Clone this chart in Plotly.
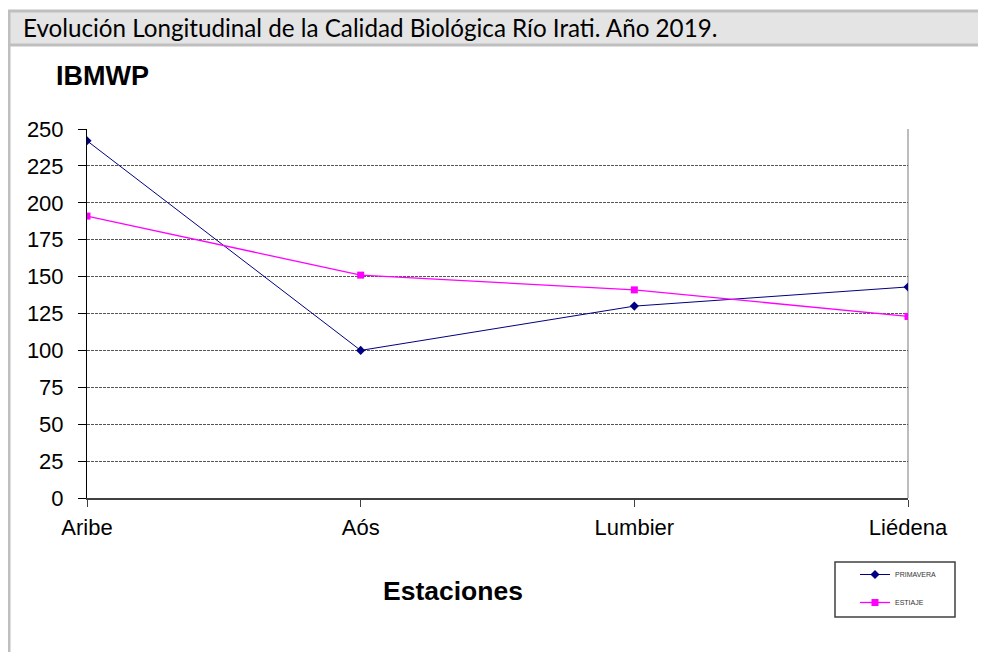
import plotly.graph_objects as go

estaciones = ["Aribe", "Aós", "Lumbier", "Liédena"]
primavera = [242, 100, 130, 143]
estiaje = [191, 151, 141, 123]
y_ticks = [0, 25, 50, 75, 100, 125, 150, 175, 200, 225, 250]

OFF = 8  # default page body margin
W, H = 986 - OFF, 652 - OFF
L, R, T, B = 87, 908, 129, 498  # plot area in screen pixels

def px(x):
    return (x - L) / (R - L)

def py(y):
    return (B - y) / (B - T)

fig = go.Figure()
fig.add_trace(go.Scatter(
    x=estaciones, y=primavera, name="PRIMAVERA", mode="lines+markers",
    legendgroup="p",
    line=dict(color="#000080", width=1),
    marker=dict(symbol="diamond", size=7, color="#000080"),
))
fig.add_trace(go.Scatter(
    x=estaciones, y=estiaje, name="ESTIAJE", mode="lines+markers",
    legendgroup="e",
    line=dict(color="#FF00FF", width=1.3),
    marker=dict(symbol="square", size=7, color="#FF00FF"),
))

fig.update_layout(
    width=W, height=H,
    margin=dict(l=L - OFF, r=986 - R, t=T - OFF, b=652 - B, pad=0),
    paper_bgcolor="white", plot_bgcolor="white",
    font=dict(family="Liberation Sans, Arial", color="black"),
    showlegend=True,
    legend=dict(
        x=px(855), y=py(560), xanchor="left", yanchor="top",
        bgcolor="rgba(0,0,0,0)", borderwidth=0,
        font=dict(size=7, family="Liberation Sans, Arial", color="#333"),
        tracegroupgap=9, itemwidth=30,
    ),
    xaxis=dict(
        type="category", range=[0, 3], showgrid=False,
        showline=True, linecolor="#404040", linewidth=2,
        ticks="outside", ticklen=7, tickcolor="#404040",
        tickfont=dict(size=22), zeroline=False, ticklabelstandoff=2,
    ),
    yaxis=dict(
        range=[0, 250], tickvals=y_ticks, showgrid=True,
        gridcolor="#555555", griddash="3px,1px", gridwidth=1,
        showline=True, linecolor="black", linewidth=1,
        ticks="outside", ticklen=8, tickcolor="black",
        tickfont=dict(size=22), zeroline=False, ticklabelstandoff=10,
    ),
)

# frame and header bar
fig.add_shape(type="rect", xref="paper", yref="paper",
              x0=px(9), x1=px(995), y0=py(45), y1=py(11),
              fillcolor="#e4e4e4", line=dict(color="#bfbfbf", width=3), layer="below")
fig.add_shape(type="line", xref="paper", yref="paper",
              x0=px(9), x1=px(9), y0=py(45), y1=py(670),
              line=dict(color="#bfbfbf", width=3))
fig.add_shape(type="line", xref="paper", yref="paper",
              x0=1, x1=1, y0=0, y1=1,
              line=dict(color="#bdbdbd", width=2), layer="below")
# legend frame
fig.add_shape(type="rect", xref="paper", yref="paper",
              x0=px(835), x1=px(955), y0=py(617), y1=py(562),
              fillcolor="white", line=dict(color="#404040", width=1.5), layer="below")

fig.add_annotation(text="Evolución Longitudinal de la Calidad Biológica Río Irati. Año 2019.",
                   xref="paper", yref="paper", x=px(21), y=py(28),
                   xanchor="left", yanchor="middle", showarrow=False,
                   font=dict(family="Lato, Carlito, Calibri", size=24.2, color="black"))
fig.add_annotation(text="<b>IBMWP</b>", xref="paper", yref="paper",
                   x=px(54), y=py(76), xanchor="left", yanchor="middle",
                   showarrow=False, font=dict(size=27, color="black"))
fig.add_annotation(text="<b>Estaciones</b>", xref="paper", yref="paper",
                   x=px(453), y=py(591), xanchor="center", yanchor="middle",
                   showarrow=False, font=dict(size=26.5, color="black"))

fig.write_html("out.html")
